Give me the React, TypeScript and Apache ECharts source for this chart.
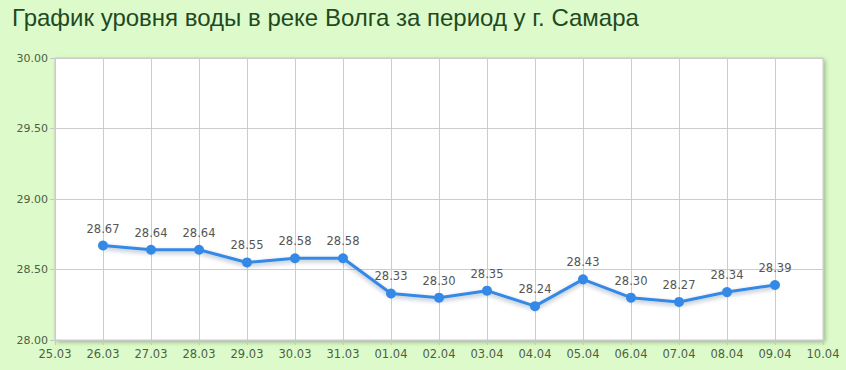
import React, { useEffect, useRef } from "react";
import * as echarts from "echarts";

const titleText = "График уровня воды в реке Волга за период у г. Самара";
const dates = ["25.03", "26.03", "27.03", "28.03", "29.03", "30.03", "31.03", "01.04", "02.04", "03.04", "04.04", "05.04", "06.04", "07.04", "08.04", "09.04", "10.04"];
const levels: (number | null)[] = [null, 28.67, 28.64, 28.64, 28.55, 28.58, 28.58, 28.33, 28.30, 28.35, 28.24, 28.43, 28.30, 28.27, 28.34, 28.39, null];
const yMin = 28;
const yMax = 30;
const yStep = 0.5;

export default function App() {
  const ref = useRef<HTMLDivElement>(null);
  useEffect(() => {
    if (!ref.current) return;
    const chart = echarts.init(ref.current, undefined, { renderer: "svg" });
    chart.setOption({
      animation: false,
      backgroundColor: "#ddfbca",
      title: {
        text: titleText,
        left: 7,
        top: 0,
        textStyle: {
          fontFamily: "'Liberation Sans', Arial, sans-serif",
          fontSize: 24,
          fontWeight: "normal",
          color: "#1f4a1f",
        },
      },
      grid: {
        left: 55,
        right: 23,
        top: 58,
        bottom: 30,
        show: true,
        backgroundColor: "#ffffff",
        borderColor: "#c8c8c8",
        borderWidth: 1,
        shadowColor: "rgba(80,110,60,0.45)",
        shadowBlur: 4,
        shadowOffsetX: 2,
        shadowOffsetY: 2,
      },
      xAxis: {
        type: "category",
        data: dates,
        boundaryGap: false,
        axisLine: { show: true, lineStyle: { color: "#c8c8c8" } },
        axisTick: { show: true, length: 5, lineStyle: { color: "#c8c8c8" } },
        axisLabel: {
          color: "#4f5f45",
          fontSize: 11.5,
          margin: 8,
          fontFamily: "'DejaVu Sans', sans-serif",
          interval: 0,
        },
        splitLine: { show: true, lineStyle: { color: "#cccccc" } },
      },
      yAxis: {
        type: "value",
        min: yMin,
        max: yMax,
        interval: yStep,
        axisLine: { show: false },
        axisTick: { show: true, length: 5, lineStyle: { color: "#c8c8c8" } },
        axisLabel: {
          color: "#4f5f45",
          fontSize: 11,
          margin: 7,
          fontFamily: "'DejaVu Sans', sans-serif",
          formatter: (v: number) => v.toFixed(2),
          padding: [0, 0, 3, 0],
        },
        splitLine: { show: true, lineStyle: { color: "#cccccc" } },
      },
      series: [
        {
          type: "line",
          data: levels,
          symbol: "circle",
          symbolSize: 10,
          itemStyle: { color: "#3589e6" },
          lineStyle: {
            color: "#3589e6",
            width: 3,
            shadowColor: "rgba(0,40,90,0.35)",
            shadowBlur: 4,
            shadowOffsetY: 2,
          },
          label: {
            show: true,
            position: "top",
            distance: 6,
            color: "#555555",
            fontSize: 11.5,
            fontFamily: "'DejaVu Sans', sans-serif",
            formatter: (p: any) => (p.value == null ? "" : Number(p.value).toFixed(2)),
          },
        },
      ],
    });
    return () => chart.dispose();
  }, []);
  return <div ref={ref} style={{ position: "absolute", left: 0, top: 0, width: 846, height: 370 }} />;
}
